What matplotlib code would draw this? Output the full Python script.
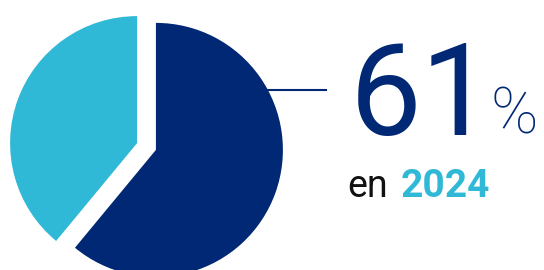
import matplotlib.pyplot as plt

shares = [61, 39]
colors = ["#012874", "#2fb9d7"]
year = "2024"

W, H = 544, 270
R = 127.0          # pie radius in px
cx, cy = 146.5, 146.5   # pie centre in px (from top-left)

fig = plt.figure(figsize=(W / 100, H / 100), dpi=100)
ax = fig.add_axes([0, 0, 1, 1])

ax.pie(shares, colors=colors, startangle=90, counterclock=False,
       explode=[10 / R, 10 / R], radius=1, wedgeprops=dict(linewidth=0))

# pie() resets the limits, so set them afterwards
ax.set_xlim(-cx / R, (W - cx) / R)
ax.set_ylim(-(H - cy) / R, cy / R)
ax.set_aspect("equal")
ax.axis("off")


def px(x, y):
    return (x - cx) / R, (cy - y) / R


# leader line
x0, y0 = px(262, 90)
x1, y1 = px(326, 90)
ax.plot([x0, x1], [y0, y1], color=colors[0], lw=1.5, zorder=0)

tx, ty = px(350, 135)
ax.text(tx, ty, f"{shares[0]}", fontsize=92, family="Roboto",
        color=colors[0], ha="left", va="baseline")
tx, ty = px(491, 133)
ax.text(tx, ty, "%", fontsize=46, family="Roboto", weight="light",
        color=colors[0], ha="left", va="baseline")

tx, ty = px(347, 197)
ax.text(tx, ty, "en", fontsize=27, family="Roboto", color="#111111",
        ha="left", va="baseline")
tx, ty = px(401, 197)
ax.text(tx, ty, year, fontsize=28, family="Roboto", weight="bold",
        color=colors[1], ha="left", va="baseline")

fig.savefig("out.png", dpi=100)
